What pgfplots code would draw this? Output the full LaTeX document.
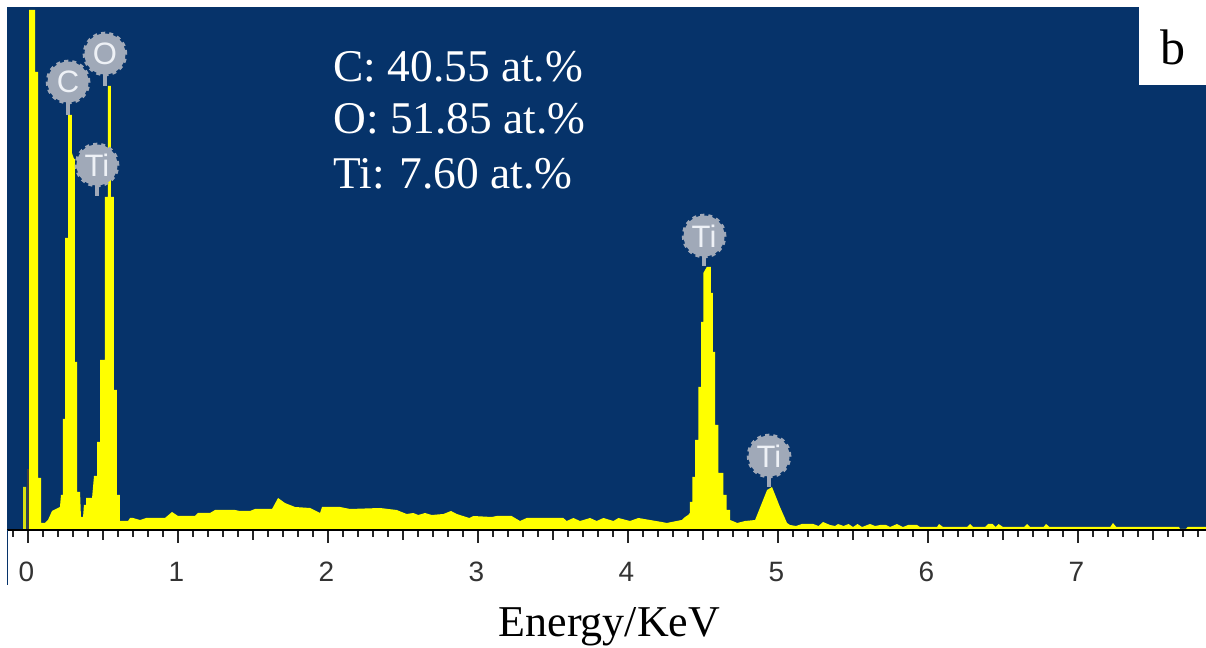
\documentclass[border=0pt]{standalone}
\usepackage{pgfplots}
\usepackage{fontspec}
\pgfplotsset{compat=1.18}
\setmainfont{Liberation Serif}
\newfontfamily\lsans{Liberation Sans}
\definecolor{bgblue}{HTML}{06336A}
\definecolor{badge}{HTML}{A0A9B8}
\definecolor{badgetxt}{HTML}{EEF1F6}
\definecolor{spec}{HTML}{FFFF00}
\newcommand{\badge}[4]{%
  \draw[badge,line width=2pt] (axis cs:#1,#2) -- (axis cs:#1,#3);
  \node[circle,fill=badge,draw=badge,dash pattern=on 2pt off 2pt,line width=1.8pt,minimum size=20.5pt,inner sep=0pt,
    text=badgetxt,font=\lsans\fontsize{15.5}{15.5}\selectfont] at (axis cs:#1,#2) {#4};
}
\begin{document}
\begin{tikzpicture}[x=1pt,y=1pt]
\path[use as bounding box] (0,0) rectangle (603,324);
\begin{axis}[
  at={(3.5pt,59pt)},anchor=south west,
  scale only axis,width=599.5pt,height=261.5pt,
  xmin=-0.14,xmax=7.853,ymin=-1,ymax=522,
  axis background/.style={fill=bgblue},
  axis line style={draw=none},
  axis x line*=bottom,axis y line=none,
  xtick={0,1,2,3,4,5,6,7},
  minor xtick={-0.1,0.1,0.2,0.3,0.4,0.6,0.7,0.8,0.9,1.1,1.2,1.3,1.4,1.6,1.7,1.8,1.9,2.1,2.2,2.3,2.4,2.6,2.7,2.8,2.9,3.1,3.2,3.3,3.4,3.6,3.7,3.8,3.9,4.1,4.2,4.3,4.4,4.6,4.7,4.8,4.9,5.1,5.2,5.3,5.4,5.6,5.7,5.8,5.9,6.1,6.2,6.3,6.4,6.6,6.7,6.8,6.9,7.1,7.2,7.3,7.4,7.6,7.7,7.8},
  extra x ticks={0.5,1.5,2.5,3.5,4.5,5.5,6.5,7.5},
  extra x tick labels={},
  extra x tick style={major tick length=5pt,tick style={black!85,line width=1.1pt}},
  tick align=outside,
  major tick length=6.5pt,minor tick length=3.5pt,
  tick style={black!85,line width=1.1pt},
  minor tick style={black!85,line width=1.1pt},
  ticklabel style={font=\lsans\fontsize{14}{14}\selectfont,text=black!80,/pgf/number format/assume math mode=true},
  xticklabel style={yshift=-6pt,xshift=-0.8pt},
  xlabel={Energy/KeV},
  xlabel style={font=\fontsize{22}{24}\selectfont,at={(axis description cs:0.5025,0)},anchor=base,yshift=-53.5pt},
  clip=false,
]
\addplot[fill=spec!85!bgblue,draw=none] coordinates {(-0.033,0)(-0.033,42)(-0.013,42)(-0.013,0)} \closedcycle;
\addplot[fill=spec,draw=none] coordinates {
(0.007,0)(0.007,519)(0.047,519)(0.047,457)(0.067,457)(0.067,51)(0.087,51)(0.087,6)
(0.113,6)(0.133,9)(0.16,18)(0.213,22)(0.22,34)(0.233,34)(0.233,110)(0.247,110)(0.247,291)
(0.267,291)(0.267,414)(0.293,414)(0.293,376)(0.307,370)(0.313,370)(0.313,167)(0.327,167)(0.327,37)
(0.347,37)(0.353,12)(0.367,12)(0.373,24)(0.387,24)(0.387,31)(0.427,31)(0.44,53)(0.46,53)(0.46,87)
(0.48,87)(0.48,169)(0.513,169)(0.513,332)(0.533,332)(0.533,443)(0.553,443)(0.553,332)(0.573,332)
(0.573,139)(0.593,139)(0.593,34)(0.613,34)(0.613,8)
(0.667,8)(0.68,11)(0.7,11)(0.747,9)(0.787,11)(0.913,11)(0.96,17)(1.0,13)(1.113,13)(1.133,16)
(1.213,16)(1.247,19)(1.38,19)(1.413,18)(1.48,18)(1.513,20)(1.627,20)(1.667,31)(1.713,26)
(1.78,22)(1.88,21)(1.947,16)(1.96,22)(2.08,22)(2.147,20)(2.347,21)(2.458,19)(2.524,15)(2.569,16)
(2.602,14)(2.647,16)(2.691,14)(2.769,15)(2.82,18)(2.858,15)(2.942,11)(2.969,13)(3.091,12)(3.124,13)
(3.224,13)(3.28,8)(3.324,11)(3.569,11)(3.591,8)(3.636,11)(3.68,8)(3.747,11)(3.791,8)(3.836,11)
(3.903,8)(3.936,11)(4.013,8)(4.069,11)(4.225,7)(4.258,6)(4.291,7)(4.358,9)(4.38,12)(4.4,14)
(4.413,16)(4.413,27)(4.429,27)(4.429,52)(4.447,52)(4.447,89)(4.469,89)(4.469,142)(4.487,142)(4.487,207)
(4.502,207)(4.502,256)(4.525,262)(4.553,262)(4.553,236)(4.565,236)(4.565,177)(4.58,177)(4.58,104)
(4.602,104)(4.602,56)(4.635,56)(4.635,34)(4.658,34)(4.658,19)(4.68,19)(4.68,9)(4.713,7)(4.727,6)
(4.78,8)(4.847,9)(4.927,39)(4.96,42)(5.013,22)(5.06,6)(5.08,4)(5.12,3)(5.158,5)(5.235,5)(5.27,3)
(5.3,7)(5.347,4)(5.38,3)(5.4,5)(5.437,3)(5.47,5)(5.5,2)(5.53,5)(5.56,2)(5.613,5)(5.647,3)(5.68,4)
(5.72,4)(5.747,2)(5.793,5)(5.833,2)(5.867,4)(5.927,4)(5.947,2)(6.06,2)(6.073,5)(6.1,2)(6.26,2)(6.28,5)
(6.3,2)(6.38,2)(6.4,5)(6.43,5)(6.45,2)(6.47,5)(6.5,2)(6.64,2)(6.66,5)(6.68,2)(6.77,2)(6.787,5)(6.81,2)
(7.215,2)(7.233,6)(7.255,2)(7.673,2)(7.68,0)(7.72,0)(7.73,2)(7.853,2)
} \closedcycle;
\draw[black!75,line width=0.7pt] (axis cs:0,-1) -- (axis cs:0,60);
\draw[black,line width=1pt] (axis cs:-0.14,-1) -- (axis cs:7.853,-1);
\draw[bgblue,line width=0.5pt] (axis cs:-0.14,-1) -- (axis cs:-0.14,-56);
\badge{0.267}{447}{414}{C}
\badge{0.513}{475}{443}{O}
\badge{0.46}{364}{333}{Ti}
\badge{4.507}{293}{263}{Ti}
\badge{4.94}{73}{42}{Ti}
\node[anchor=base west,inner sep=0pt,text=white,font=\fontsize{22.7}{24}\selectfont] at (axis cs:2.033,447) {C: 40.55 at.\%};
\node[anchor=base west,inner sep=0pt,text=white,font=\fontsize{22.7}{24}\selectfont] at (axis cs:2.033,395) {O: 51.85 at.\%};
\node[anchor=base west,inner sep=0pt,text=white,font=\fontsize{22.7}{24}\selectfont] at (axis cs:2.033,340) {Ti: 7.60 at.\%};
\fill[white] (axis cs:7.407,444) rectangle (axis cs:7.853,522);
\node[anchor=base,inner sep=0pt,text=black,font=\fontsize{25}{26}\selectfont] at (axis cs:7.63,464) {b};
\end{axis}
\end{tikzpicture}
\end{document}
